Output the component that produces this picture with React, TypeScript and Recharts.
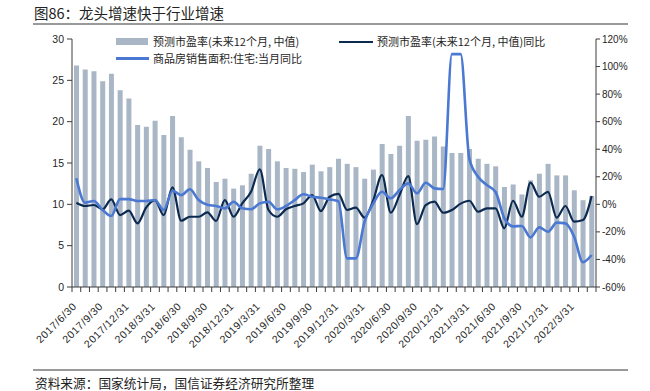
import React from "react";
import { ComposedChart, Bar, Line, XAxis, YAxis } from "recharts";

// month-end dates, 2017/6 .. 2022/5
const MONTHS = [
  "2017/6/30", "2017/7/31", "2017/8/31", "2017/9/30", "2017/10/31", "2017/11/30", "2017/12/31",
  "2018/1/31", "2018/2/28", "2018/3/31", "2018/4/30", "2018/5/31", "2018/6/30",
  "2018/7/31", "2018/8/31", "2018/9/30", "2018/10/31", "2018/11/30", "2018/12/31",
  "2019/1/31", "2019/2/28", "2019/3/31", "2019/4/30", "2019/5/31", "2019/6/30",
  "2019/7/31", "2019/8/31", "2019/9/30", "2019/10/31", "2019/11/30", "2019/12/31",
  "2020/1/31", "2020/2/29", "2020/3/31", "2020/4/30", "2020/5/31", "2020/6/30",
  "2020/7/31", "2020/8/31", "2020/9/30", "2020/10/31", "2020/11/30", "2020/12/31",
  "2021/1/31", "2021/2/28", "2021/3/31", "2021/4/30", "2021/5/31", "2021/6/30",
  "2021/7/31", "2021/8/31", "2021/9/30", "2021/10/31", "2021/11/30", "2021/12/31",
  "2022/1/31", "2022/2/28", "2022/3/31", "2022/4/30", "2022/5/31",
];

// 预测市盈率(未来12个月, 中值) - left axis
const PE = [
  26.8, 26.3, 26.1, 24.9, 25.8, 23.8, 22.8, 19.6, 19.4, 20.1,
  18.4, 20.7, 18.1, 16.6, 15.2, 14.4, 12.7, 13.1, 11.9, 12.3,
  13.7, 17.1, 16.7, 15.2, 14.4, 14.3, 13.9, 14.8, 14.0, 14.5,
  15.5, 14.9, 14.5, 13.1, 14.2, 17.3, 16.1, 17.1, 20.7, 17.7,
  17.8, 18.2, 17.0, 16.2, 16.2, 16.7, 15.5, 14.9, 14.6, 12.1,
  12.4, 11.2, 12.9, 13.7, 14.9, 13.5, 13.5, 11.7, 10.5, 11.0,
];

// 预测市盈率 同比 (%) - right axis
const PE_YOY = [
  1.2, -1.2, -0.5, -3.6, 3.6, -7.8, -4.6, -13.8, -2.2, 3.1,
  -7.8, 12.3, -11.9, -9.0, -9.0, -5.8, -12.1, 3.1, -9.0, 0.7,
  9.1, 25.4, -4.1, -9.0, -3.6, -1.2, 0.7, 6.7, -4.9, 5.5,
  7.6, -4.1, -2.4, -9.7, 3.1, 21.3, -6.1, 6.7, 20.5, -14.3,
  -0.5, 1.9, -6.1, -4.1, 0.5, 2.6, -5.4, -2.9, -3.0, -17.4,
  2.6, -9.0, 15.7, 5.5, 9.1, -9.7, -1.2, -12.6, -11.4, 6.0,
];

// 商品房销售面积:住宅:当月同比 (%) - right axis
const SALES_YOY = [
  18.9, 1.2, 2.4, -4.1, -8.5, 3.8, 3.8, 2.4, 2.4, 3.1,
  -4.1, 9.9, 6.7, 10.9, 3.1, -0.3, -1.2, -2.9, 1.9, -2.9,
  -3.6, 0.7, 1.9, -3.6, -1.2, 3.1, 7.3, 5.5, 4.8, 3.6,
  2.2, -39.2, -39.2, -12.6, 0.7, 9.1, 4.4, 10.4, 15.2, 8.0,
  15.7, 11.6, 11.1, 109, 109, 33, 20, 14, 9, -10,
  -16, -15.7, -24, -16.7, -19.9, -13.3, -13.8, -23.5, -42, -36.8,
];

const LEFT_TICKS = [0, 5, 10, 15, 20, 25, 30];
const RIGHT_TICKS = [-60, -40, -20, 0, 20, 40, 60, 80, 100, 120];

const data = MONTHS.map((month, i) => ({
  month,
  pe: PE[i],
  peYoy: PE_YOY[i],
  sales: SALES_YOY[i],
}));

const W = 650;
const H = 391;
const PLOT_LEFT = 72;
const PLOT_RIGHT = 596;
const PLOT_TOP = 39;
const PLOT_BOTTOM = 287;
const LEFT_AXIS_W = 40;
const RIGHT_AXIS_W = 44;
const X_AXIS_H = 30;
const BAND = (PLOT_RIGHT - PLOT_LEFT) / MONTHS.length;

const BAR_COLOR = "#a8b6c6";
const NAVY = "#0c2a50";
const BLUE = "#4a78d2";
const AXIS = "#3c3c3c";
const TEXT = "#262626";
const FONT = '"Liberation Sans", Arial, "Noto Sans CJK SC", sans-serif';
const CJK = '"Noto Sans CJK SC", "Liberation Sans", sans-serif';

// tick marks sit on category boundaries; label every 3rd month, slanted
function MonthTick(props: any) {
  const { x, y, payload } = props;
  const idx = payload?.index ?? props.index ?? 0;
  const left = x - BAND / 2;
  const tx = x + 1;
  const ty = y + 20;
  return (
    <g>
      <line x1={left} y1={y} x2={left} y2={y + 5} stroke={AXIS} strokeWidth={1} />
      {idx === MONTHS.length - 1 && (
        <line x1={x + BAND / 2} y1={y} x2={x + BAND / 2} y2={y + 5} stroke={AXIS} strokeWidth={1} />
      )}
      {idx % 3 === 0 && (
        <text
          x={tx}
          y={ty}
          transform={`rotate(-45 ${tx} ${ty})`}
          textAnchor="end"
          fontSize={10.5}
          letterSpacing={0.6}
          fill={TEXT}
          fontFamily={FONT}
        >
          {payload.value}
        </text>
      )}
    </g>
  );
}

export default function App() {
  return (
    <div style={{ position: "absolute", left: 0, top: 0, width: W, height: H, background: "#fff", fontFamily: CJK }}>
      <div style={{ position: "absolute", left: 34, top: 4, fontSize: 14.5, lineHeight: "18px", color: "#222", whiteSpace: "nowrap" }}>
        图86：龙头增速快于行业增速
      </div>
      <div style={{ position: "absolute", left: 33, top: 23, width: 595, height: 1.5, background: "#9a9a9a" }} />

      <ComposedChart
        width={W}
        height={H}
        data={data}
        margin={{
          top: PLOT_TOP,
          left: PLOT_LEFT - LEFT_AXIS_W,
          right: W - PLOT_RIGHT - RIGHT_AXIS_W,
          bottom: H - PLOT_BOTTOM - X_AXIS_H,
        }}
        barCategoryGap="42%"
      >
        <XAxis
          dataKey="month"
          interval={0}
          height={X_AXIS_H}
          tickSize={0}
          tickMargin={0}
          axisLine={{ stroke: AXIS }}
          tickLine={false}
          tick={<MonthTick />}
        />
        <YAxis
          yAxisId="left"
          width={LEFT_AXIS_W}
          domain={[0, 30]}
          ticks={LEFT_TICKS}
          interval={0}
          tickSize={5}
          tickMargin={3}
          axisLine={{ stroke: AXIS }}
          tickLine={{ stroke: AXIS }}
          tick={{ fontSize: 10.5, fill: TEXT, fontFamily: FONT }}
        />
        <YAxis
          yAxisId="right"
          orientation="right"
          width={RIGHT_AXIS_W}
          domain={[-60, 120]}
          ticks={RIGHT_TICKS}
          interval={0}
          tickSize={4}
          tickMargin={2}
          axisLine={{ stroke: AXIS }}
          tickLine={{ stroke: AXIS }}
          tickFormatter={(v: number) => `${v}%`}
          tick={{ fontSize: 10, fill: TEXT, fontFamily: FONT }}
        />
        <Bar yAxisId="left" dataKey="pe" fill={BAR_COLOR} barSize={5} isAnimationActive={false} />
        <Line
          yAxisId="right"
          type="monotone"
          dataKey="peYoy"
          stroke={NAVY}
          strokeWidth={2.2}
          dot={false}
          isAnimationActive={false}
        />
        <Line
          yAxisId="right"
          type="monotone"
          dataKey="sales"
          stroke={BLUE}
          strokeWidth={2.6}
          dot={false}
          isAnimationActive={false}
        />
      </ComposedChart>

      {/* legend */}
      <div style={{ position: "absolute", left: 116, top: 38, width: 32, height: 7, background: BAR_COLOR }} />
      <div style={{ position: "absolute", left: 153, top: 34, fontSize: 11, lineHeight: "15px", color: TEXT, whiteSpace: "nowrap" }}>
        预测市盈率(未来12个月, 中值)
      </div>
      <div style={{ position: "absolute", left: 116, top: 57, width: 33, height: 2.6, background: BLUE }} />
      <div style={{ position: "absolute", left: 153, top: 51, fontSize: 11, lineHeight: "15px", color: TEXT, whiteSpace: "nowrap" }}>
        商品房销售面积:住宅:当月同比
      </div>
      <div style={{ position: "absolute", left: 339, top: 40.5, width: 34, height: 2.4, background: NAVY }} />
      <div style={{ position: "absolute", left: 377, top: 34, fontSize: 11, lineHeight: "15px", color: TEXT, whiteSpace: "nowrap" }}>
        预测市盈率(未来12个月, 中值)同比
      </div>

      <div style={{ position: "absolute", left: 33, top: 369, width: 595, height: 1.5, background: "#9a9a9a" }} />
      <div style={{ position: "absolute", left: 35, top: 375, fontSize: 12.7, lineHeight: "15px", color: "#222", whiteSpace: "nowrap" }}>
        资料来源：国家统计局，国信证券经济研究所整理
      </div>
    </div>
  );
}
